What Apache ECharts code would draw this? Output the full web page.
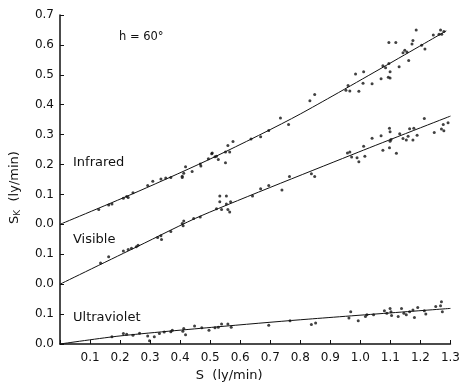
<!DOCTYPE html>
<html>
<head>
<meta charset="utf-8">
<script src="https://cdn.jsdelivr.net/npm/echarts@6/dist/echarts.min.js"></script>
<style>
html,body{margin:0;padding:0;background:#fff;}
#chart{width:463px;height:387px;}
</style>
</head>
<body>
<div id="chart"></div>
<script>
// Left-axis tick labels (each band restarts at 0.0)
var yTickLabels = ['0.0','0.1','0.0','0.1','0.0','0.1','0.2','0.3','0.4','0.5','0.6','0.7'];
var xTicks = [0.1,0.2,0.3,0.4,0.5,0.6,0.7,0.8,0.9,1.0,1.1,1.2,1.3];

// Infrared: observed points [S, Sk] and fitted curve
var infraredPoints = [[0.129,0.050],[0.162,0.065],[0.173,0.068],[0.211,0.087],[0.222,0.093],[0.227,0.090],[0.243,0.106],[0.292,0.130],[0.309,0.144],[0.336,0.152],[0.352,0.155],[0.369,0.157],[0.407,0.161],[0.412,0.171],[0.418,0.193],[0.407,0.157],[0.44,0.177],[0.467,0.202],[0.469,0.195],[0.494,0.219],[0.505,0.236],[0.507,0.239],[0.516,0.226],[0.521,0.228],[0.527,0.217],[0.551,0.206],[0.551,0.242],[0.565,0.242],[0.559,0.264],[0.576,0.277],[0.636,0.285],[0.668,0.293],[0.695,0.314],[0.734,0.356],[0.761,0.334],[0.832,0.413],[0.848,0.434],[0.952,0.448],[0.959,0.464],[0.965,0.446],[0.984,0.503],[0.995,0.445],[1.009,0.472],[1.011,0.510],[1.039,0.470],[1.069,0.487],[1.075,0.530],[1.084,0.524],[1.093,0.492],[1.095,0.608],[1.095,0.538],[1.099,0.510],[1.099,0.489],[1.118,0.608],[1.129,0.527],[1.142,0.574],[1.148,0.582],[1.155,0.576],[1.161,0.548],[1.172,0.603],[1.175,0.615],[1.186,0.650],[1.204,0.599],[1.215,0.586],[1.243,0.633],[1.262,0.636],[1.267,0.650],[1.271,0.636],[1.278,0.645]];
var infraredFit = [[0,0],[0.26,0.110],[0.52,0.228],[0.80,0.369],[1.286,0.647]];

// Visible
var visiblePoints = [[0.135,0.071],[0.162,0.092],[0.211,0.111],[0.227,0.116],[0.238,0.120],[0.254,0.125],[0.26,0.130],[0.325,0.156],[0.336,0.162],[0.338,0.149],[0.369,0.176],[0.407,0.203],[0.412,0.211],[0.410,0.195],[0.445,0.220],[0.467,0.225],[0.521,0.252],[0.532,0.295],[0.554,0.295],[0.532,0.276],[0.568,0.276],[0.538,0.250],[0.554,0.268],[0.559,0.250],[0.565,0.241],[0.641,0.295],[0.668,0.319],[0.695,0.330],[0.739,0.315],[0.764,0.360],[0.837,0.369],[0.848,0.360],[0.957,0.439],[0.965,0.442],[0.971,0.425],[0.989,0.423],[0.995,0.409],[1.011,0.461],[1.015,0.428],[1.039,0.488],[1.069,0.496],[1.075,0.448],[1.097,0.521],[1.099,0.510],[1.097,0.456],[1.099,0.478],[1.102,0.484],[1.120,0.438],[1.131,0.503],[1.142,0.487],[1.153,0.482],[1.159,0.495],[1.164,0.520],[1.175,0.482],[1.178,0.521],[1.189,0.498],[1.213,0.554],[1.246,0.507],[1.270,0.519],[1.276,0.534],[1.278,0.513],[1.292,0.540]];
var visibleFit = [[0,0],[0.26,0.127],[0.473,0.230],[0.995,0.442],[1.3,0.562]];

// Ultraviolet
var ultravioletPoints = [[0.173,0.024],[0.211,0.035],[0.222,0.033],[0.243,0.029],[0.265,0.036],[0.292,0.027],[0.298,0.011],[0.314,0.024],[0.331,0.035],[0.347,0.040],[0.369,0.041],[0.374,0.046],[0.409,0.043],[0.412,0.052],[0.418,0.031],[0.448,0.060],[0.472,0.054],[0.496,0.046],[0.516,0.054],[0.527,0.056],[0.538,0.067],[0.559,0.067],[0.570,0.056],[0.695,0.063],[0.766,0.078],[0.837,0.065],[0.851,0.070],[0.962,0.087],[0.968,0.108],[0.993,0.078],[1.017,0.092],[1.022,0.098],[1.044,0.098],[1.080,0.111],[1.088,0.103],[1.099,0.119],[1.102,0.108],[1.104,0.095],[1.126,0.092],[1.137,0.119],[1.145,0.103],[1.153,0.098],[1.164,0.108],[1.175,0.114],[1.180,0.089],[1.191,0.122],[1.213,0.111],[1.218,0.100],[1.251,0.125],[1.267,0.128],[1.270,0.141],[1.273,0.108]];
var ultravioletFit = [[0,0],[0.2,0.027],[0.52,0.057],[0.8,0.081],[1.3,0.119]];

var chart = echarts.init(document.getElementById('chart'), null, {renderer:'canvas'});
var FONT = 'DejaVu Sans';
var ink = '#111';

function dots(data, axisIdx){
  return {type:'scatter', data:data, yAxisIndex:axisIdx, symbol:'circle', symbolSize:3,
    itemStyle:{color:ink}, silent:true, z:3};
}
function fit(data, axisIdx){
  return {type:'line', data:data, yAxisIndex:axisIdx, smooth:0.25, showSymbol:false, symbol:'none',
    lineStyle:{color:ink, width:1}, silent:true, z:2};
}

var hiddenAxis = function(min, max){
  return {type:'value', min:min, max:max, show:false, splitLine:{show:false}};
};

chart.setOption({
  backgroundColor:'#fff',
  animation:false,
  title:{text:'h = 60°', left:114, top:26, textStyle:{fontFamily:FONT, fontSize:11.5, fontWeight:'normal', color:ink}},
  grid:{left:55, right:10, top:15, bottom:34, containLabel:false},
  xAxis:{
    type:'value', min:0, max:1.3, interval:0.1,
    name:'S  (ly/min)', nameLocation:'middle', nameGap:25,
    nameTextStyle:{fontFamily:FONT, fontSize:13, color:ink, padding:[0,52,0,0]},
    axisLine:{lineStyle:{color:ink, width:1.5}},
    axisTick:{inside:true, length:4, lineStyle:{color:ink}},
    axisLabel:{fontFamily:FONT, fontSize:12, color:ink, margin:8,
      formatter:function(v){ var i = xTicks.indexOf(Math.round(v*10)/10); return i<0 ? '' : xTicks[i].toFixed(1); }},
    splitLine:{show:false}
  },
  yAxis:[
    {type:'value', min:0, max:1.1, interval:0.1,
      name:'{s|S}{k|K}{n|  (ly/min)}', nameLocation:'middle', nameGap:38, nameRotate:90,
      nameTextStyle:{fontFamily:FONT, color:ink, padding:[0,16,0,0],
        rich:{s:{fontFamily:FONT, fontSize:13, color:ink},
              k:{fontFamily:FONT, fontSize:9, color:ink, verticalAlign:'bottom', padding:[6,0,0,0]},
              n:{fontFamily:FONT, fontSize:13, color:ink}}},
      axisLine:{show:true, lineStyle:{color:ink, width:1.5}},
      axisTick:{show:true, inside:true, length:4, lineStyle:{color:ink}},
      axisLabel:{fontFamily:FONT, fontSize:12, color:ink, margin:6,
        formatter:function(v){ return yTickLabels[Math.round(v*10)] || ''; }},
      splitLine:{show:false}},
    hiddenAxis(-0.2, 0.9),
    hiddenAxis(-0.4, 0.7)
  ],
  graphic:[
    {type:'text', left:73, top:156, style:{text:'Infrared', fontFamily:FONT, fontSize:13, fill:ink}},
    {type:'text', left:73, top:233, style:{text:'Visible', fontFamily:FONT, fontSize:13, fill:ink}},
    {type:'text', left:73, top:311, style:{text:'Ultraviolet', fontFamily:FONT, fontSize:13, fill:ink}}
  ],
  series:[
    fit(infraredFit, 2), dots(infraredPoints, 2),
    fit(visibleFit, 1), dots(visiblePoints, 1),
    fit(ultravioletFit, 0), dots(ultravioletPoints, 0)
  ]
});
</script>
</body>
</html>
